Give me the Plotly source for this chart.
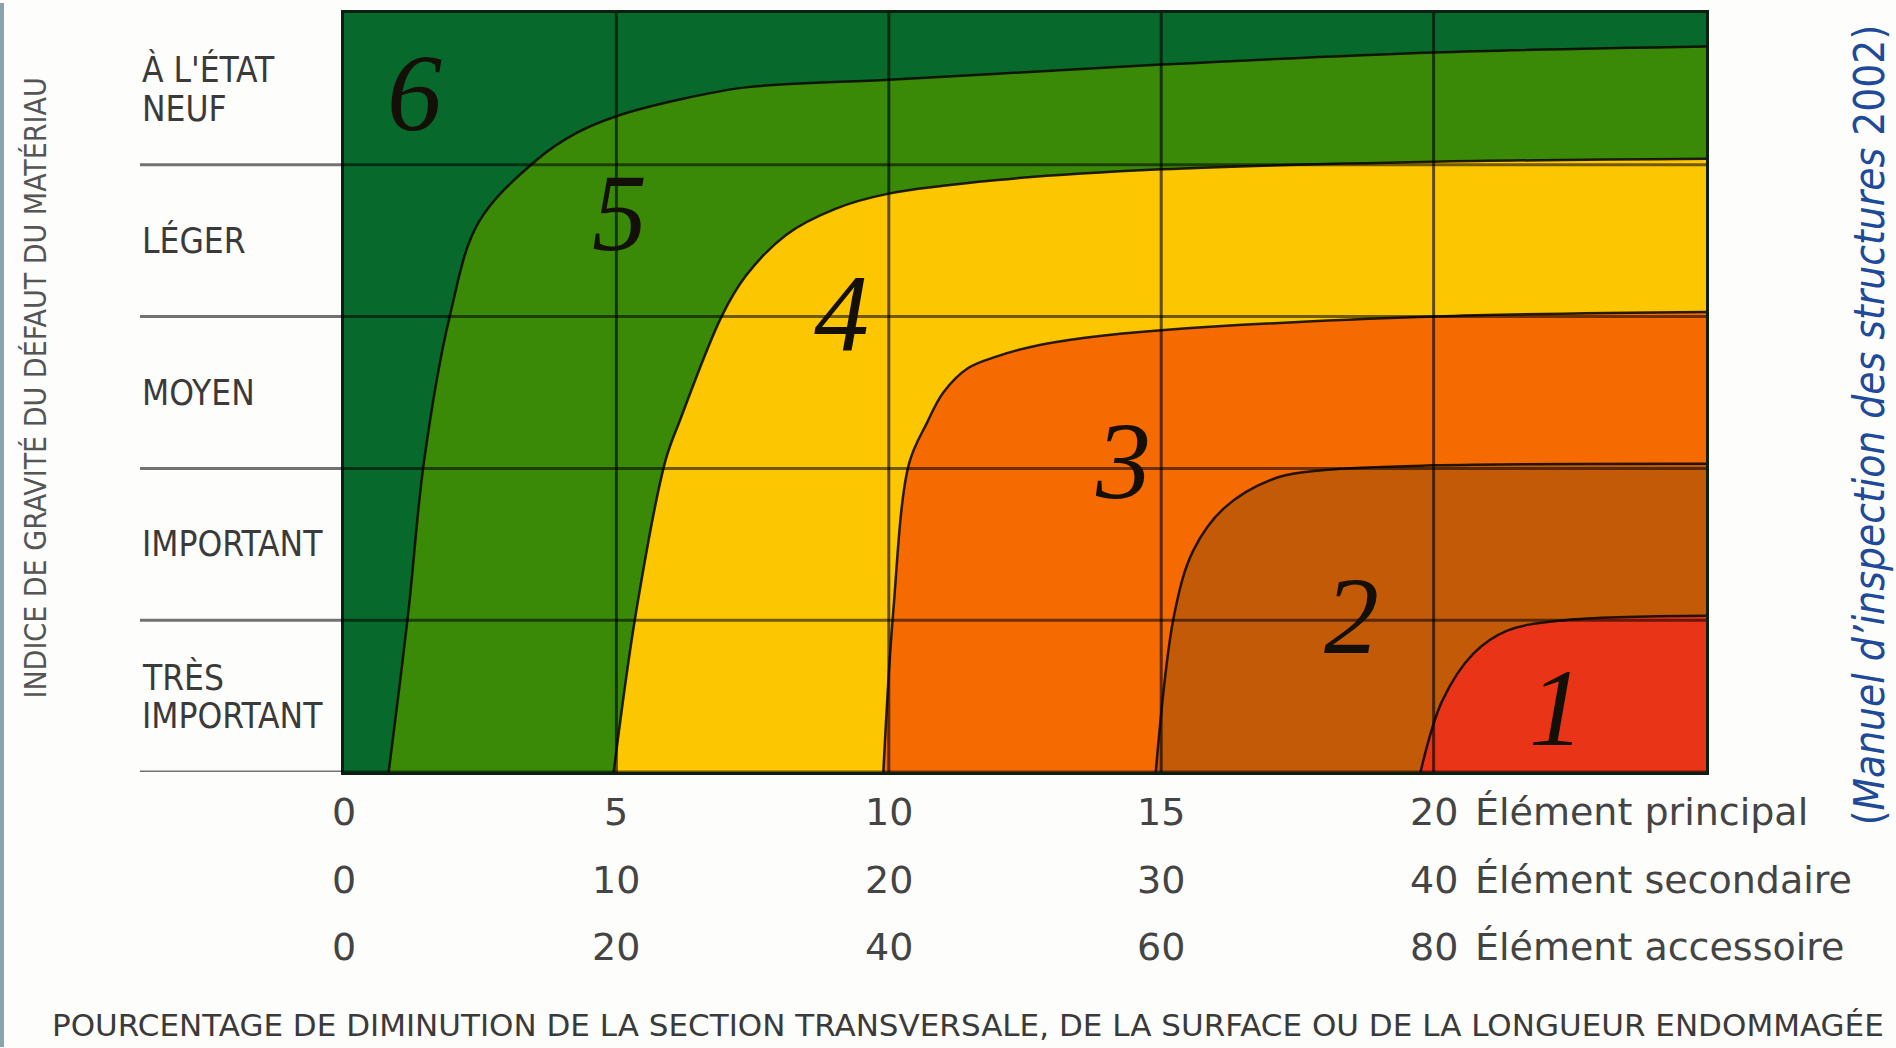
import plotly.graph_objects as go

# ---- data (x in % for "Élément principal", y in severity rows 0..5) ----
b65_x = [0.82, 1.18, 1.47, 1.94, 2.47, 3.53, 4.27, 5.0, 6.16, 7.38, 10, 12, 15, 20, 25]
b65_y = [0, 1.05, 2.05, 3.0, 3.62, 4.03, 4.21, 4.32, 4.43, 4.51, 4.56, 4.6, 4.66, 4.74, 4.78]
b54_x = [4.95, 5.36, 5.9, 6.16, 6.93, 7.38, 8.12, 9.02, 10, 12, 15, 20, 25]
b54_y = [0, 1.05, 2.05, 2.31, 3.0, 3.27, 3.54, 3.71, 3.81, 3.9, 3.97, 4.02, 4.04]
b43_x = [9.9, 10.08, 10.37, 10.7, 11.0, 11.45, 12.0, 12.6, 13.6, 15, 20, 25]
b43_y = [0, 1.05, 2.03, 2.3, 2.5, 2.66, 2.74, 2.8, 2.86, 2.91, 3.0, 3.03]
b32_x = [14.9, 15.24, 15.59, 16.16, 17.13, 18.0, 20, 25]
b32_y = [0, 1.04, 1.46, 1.74, 1.94, 1.99, 2.02, 2.03]
b21_x = [19.76, 20.16, 20.73, 21.34, 22.4, 25]
b21_y = [0, 0.47, 0.78, 0.93, 1.0, 1.03]

row_labels = [["TRÈS", "IMPORTANT"], ["IMPORTANT"], ["MOYEN"], ["LÉGER"], ["À L'ÉTAT", "NEUF"]]
tick_vals = [0, 5, 10, 15, 20]
ticks_principal = ["0", "5", "10", "15", "20"]
ticks_secondaire = ["0", "10", "20", "30", "40"]
ticks_accessoire = ["0", "20", "40", "60", "80"]
row_names = ["Élément principal", "Élément secondaire", "Élément accessoire"]
zone_labels = ["6", "5", "4", "3", "2", "1"]
zone_x = [1.3, 5.05, 9.14, 14.3, 18.5, 22.25]
zone_y = [4.47, 3.68, 3.02, 2.05, 1.03, 0.42]

C6, C5, C4, C3, C2, C1 = "#07692c", "#3a8a08", "#fcc600", "#f66a02", "#c35a07", "#e93417"

W, H = 1896, 1048
L, R, T, B = 344, 190, 10, 276
PW, PH = W - L - R, H - T - B

def px(xp):
    return (xp - L) / PW

def py(yp):
    return (H - B - yp) / PH

fig = go.Figure()
for bx, by, col in [(b65_x, b65_y, C5), (b54_x, b54_y, C4), (b43_x, b43_y, C3),
                    (b32_x, b32_y, C2), (b21_x, b21_y, C1)]:
    fig.add_trace(go.Scatter(x=bx, y=by, mode="lines", fill="tozeroy", fillcolor=col,
                             line=dict(color="rgba(15,10,0,0.9)", width=2.5, shape="spline", smoothing=1.0),
                             hoverinfo="skip", showlegend=False))

shapes = []
for xv in [5, 10, 15, 20]:
    shapes.append(dict(type="line", xref="x", yref="y", x0=xv, x1=xv, y0=0, y1=5,
                       line=dict(color="rgba(0,0,0,0.62)", width=3), layer="above"))
for yv in [0, 1, 2, 3, 4]:
    shapes.append(dict(type="line", xref="paper", yref="y", x0=px(140), x1=1, y0=yv, y1=yv,
                       line=dict(color="rgba(0,0,0,0.55)", width=3), layer="above"))
shapes.append(dict(type="rect", xref="paper", yref="paper", x0=px(0), x1=px(4), y0=py(H), y1=py(0),
                   fillcolor="#8aa3ad", line=dict(width=0), layer="above"))

ann = []
cond = "DejaVu Sans Condensed, Liberation Sans Narrow, Liberation Sans"
lab_font = dict(family=cond, size=35, color="#3a3a3a")
for i, lines in enumerate(row_labels):
    yc = i + 0.5
    if len(lines) == 1:
        ann.append(dict(x=px(140), y=yc, xref="paper", yref="y", text=lines[0], showarrow=False,
                        xanchor="left", yanchor="middle", font=lab_font))
    else:
        for j, t in enumerate(lines):
            ann.append(dict(x=px(140), y=yc + (0.125 if j == 0 else -0.13), xref="paper", yref="y",
                            text=t, showarrow=False, xanchor="left", yanchor="middle", font=lab_font))

tick_font = dict(family="DejaVu Sans", size=38, color="#444444")
for rowy, labels, name in [(812, ticks_principal, row_names[0]), (880, ticks_secondaire, row_names[1]),
                           (948, ticks_accessoire, row_names[2])]:
    for xv, t in zip(tick_vals, labels):
        ann.append(dict(x=xv, y=py(rowy), xref="x", yref="paper", text=t, showarrow=False,
                        xanchor="center", yanchor="middle", font=tick_font))
    ann.append(dict(x=px(1473), y=py(rowy), xref="paper", yref="paper", text=name, showarrow=False,
                    xanchor="left", yanchor="middle", font=tick_font))

for t, xv, yv in zip(zone_labels, zone_x, zone_y):
    ann.append(dict(x=xv, y=yv, xref="x", yref="y", text="<i>" + t + "</i>", showarrow=False,
                    xanchor="center", yanchor="middle",
                    font=dict(family="Liberation Serif", size=110, color="#141008")))

ann.append(dict(x=px(50), y=py(1046), xref="paper", yref="paper",
                text="POURCENTAGE DE DIMINUTION DE LA SECTION TRANSVERSALE, DE LA SURFACE OU DE LA LONGUEUR ENDOMMAGÉE",
                showarrow=False, xanchor="left", yanchor="bottom",
                font=dict(family="DejaVu Sans", size=31, color="#3a3a3a")))
ann.append(dict(x=px(36), y=py(387), xref="paper", yref="paper",
                text="INDICE DE GRAVITÉ DU DÉFAUT DU MATÉRIAU", textangle=-90,
                showarrow=False, xanchor="center", yanchor="middle",
                font=dict(family=cond, size=30, color="#555555")))
ann.append(dict(x=px(1869), y=py(424), xref="paper", yref="paper",
                text="(<i>Manuel d’inspection des structures</i> 2002)", textangle=-90,
                showarrow=False, xanchor="center", yanchor="middle",
                font=dict(family=cond, size=42, color="#1f4a9a")))

fig.update_layout(
    width=W, height=H, margin=dict(l=L, r=R, t=T, b=B),
    paper_bgcolor="#fdfdfb", plot_bgcolor=C6,
    xaxis=dict(range=[0, 25], showgrid=False, zeroline=False, showticklabels=False, ticks="",
               showline=True, mirror=True, linecolor="#0d1f10", linewidth=3, fixedrange=True),
    yaxis=dict(range=[0, 5], showgrid=False, zeroline=False, showticklabels=False, ticks="",
               showline=True, mirror=True, linecolor="#0d1f10", linewidth=3, fixedrange=True),
    shapes=shapes, annotations=ann, showlegend=False,
)

fig.write_html("out.html", config={"displayModeBar": False},
               post_script="document.body.style.margin='0';")
